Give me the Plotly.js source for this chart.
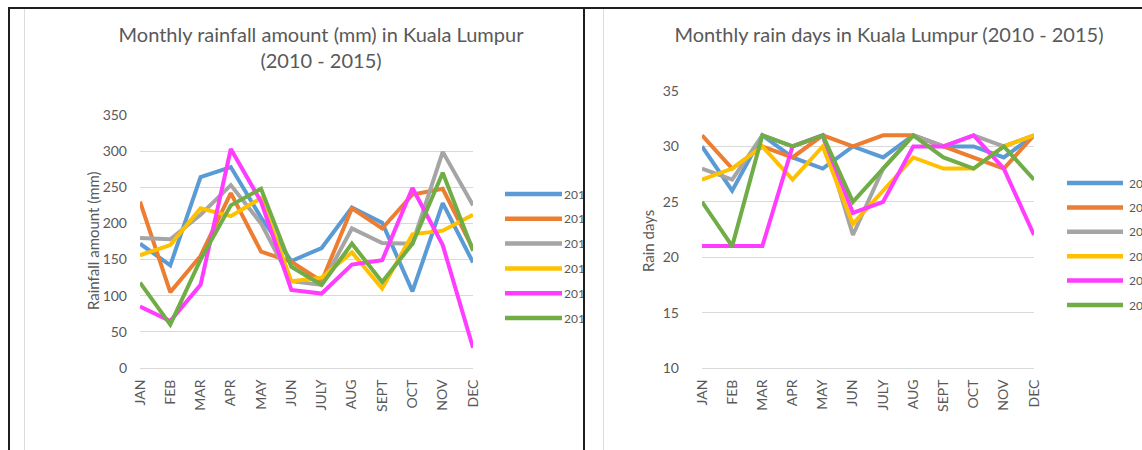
<!DOCTYPE html>
<html><head><meta charset="utf-8">
<script src="https://cdn.plot.ly/plotly-3.0.1.min.js"></script>
<style>
body{margin:0;background:#fff;}
#wrap{position:relative;width:1142px;height:450px;overflow:hidden;background:#fff;}
.pan{position:absolute;overflow:hidden;}
.bk{position:absolute;background:#1e1e1e;}
.gr{position:absolute;background:#dcdcdc;}
</style></head><body>
<div id="wrap">
 <div class="pan" id="c1" style="left:10px;top:9px;width:573px;height:441px"></div>
 <div class="pan" id="c2" style="left:585px;top:9px;width:557px;height:441px"></div>
 <div class="gr" style="left:24px;top:9px;width:1px;height:441px"></div>
 <div class="gr" style="left:603px;top:9px;width:1px;height:441px"></div>
 <div class="bk" style="left:8px;top:7px;width:1134px;height:2px"></div>
 <div class="bk" style="left:8px;top:7px;width:2px;height:443px"></div>
 <div class="bk" style="left:583px;top:7px;width:2px;height:443px"></div>
</div>
<script>
const months = ['JAN','FEB','MAR','APR','MAY','JUN','JULY','AUG','SEPT','OCT','NOV','DEC'];
const years = ['2010','2011','2012','2013','2014','2015'];
const colors = ['#5B9BD5','#ED7D31','#A5A5A5','#FFC000','#FF3CFF','#70AD47'];

// Monthly rainfall amount (mm)
const rain2010 = [172, 142, 264, 278, 208, 148, 166, 222, 201, 106, 228, 146];
const rain2011 = [230, 105, 155, 242, 161, 147, 120, 221, 193, 240, 248, 165];
const rain2012 = [180, 178, 212, 253, 200, 120, 115, 193, 173, 172, 299, 225];
const rain2013 = [156, 170, 221, 210, 235, 120, 125, 160, 110, 185, 190, 212];
const rain2014 = [85, 65, 115, 303, 230, 108, 103, 143, 149, 249, 170, 28];
const rain2015 = [118, 60, 150, 225, 248, 140, 115, 172, 119, 172, 270, 162];

// Monthly rain days
const days2010 = [30, 26, 31, 29, 28, 30, 29, 31, 30, 30, 29, 31];
const days2011 = [31, 28, 30, 29, 31, 30, 31, 31, 30, 29, 28, 31];
const days2012 = [28, 27, 31, 30, 31, 22, 28, 31, 30, 31, 30, 31];
const days2013 = [27, 28, 30, 27, 30, 23, 26, 29, 28, 28, 30, 31];
const days2014 = [21, 21, 21, 30, 31, 24, 25, 30, 30, 31, 28, 22];
const days2015 = [25, 21, 31, 30, 31, 25, 28, 31, 29, 28, 30, 27];

const rainSeries = [rain2010, rain2011, rain2012, rain2013, rain2014, rain2015];
const daySeries = [days2010, days2011, days2012, days2013, days2014, days2015];

const FONT = "Lato, 'Open Sans', sans-serif";
const GREY = '#595959';

function traces(series){
  return series.map((v,i)=>({
    type:'scatter', mode:'lines', x:months, y:v, name:years[i],
    line:{color:colors[i], width:4}, showlegend:false, hoverinfo:'skip'
  }));
}

// manual legend (long Excel-style keys)
function legend(x0, x1, xt, y0, dy, toPx){
  const shapes=[], ann=[];
  years.forEach((yr,i)=>{
    const p = toPx(x0, y0+i*dy), q = toPx(x1, y0+i*dy), t = toPx(xt, y0+i*dy);
    shapes.push({type:'line', xref:'paper', yref:'paper', x0:p[0], x1:q[0], y0:p[1], y1:p[1],
      line:{color:colors[i], width:4.5}});
    ann.push({xref:'paper', yref:'paper', x:t[0], y:t[1], text:yr, showarrow:false,
      xanchor:'left', yanchor:'middle', font:{size:12, color:GREY, family:FONT}});
  });
  return {shapes, ann};
}

function axes(yr, dt, standoff){
  return {
    xaxis:{type:'category', tickangle:-90, tickfont:{size:14, color:GREY}, showgrid:false,
      showline:true, linecolor:'#d9d9d9', ticks:'', ticklabelstandoff:5, fixedrange:true},
    yaxis:{range:yr, dtick:dt, tickfont:{size:14, color:GREY}, gridcolor:'#d9d9d9',
      zeroline:false, showline:false, ticks:'', ticklabelstandoff:standoff, fixedrange:true}
  };
}

// ----- chart 1 -----
(function(){
  const L=140, R=473, T=115, B=368; // page px of plot area
  const toPx=(x,y)=>[(x-L)/(R-L), (B-y)/(B-T)];
  const lg = legend(505, 562, 562, 194, 24.8, toPx);
  const ytp = toPx(93, 241);
  lg.ann.push({xref:'paper', yref:'paper', x:ytp[0], y:ytp[1], text:'Rainfall amount (mm)',
    xanchor:'center', yanchor:'middle',
    textangle:-90, showarrow:false, font:{size:15, color:GREY, family:FONT}});
  const ax = axes([0,350], 50, 12);
  const layout = Object.assign({
    width:640, height:441,
    margin:{l:L-10, r:640-(L-10)-(R-L), t:T-9, b:441-(T-9)-(B-T)},
    paper_bgcolor:'#fff', plot_bgcolor:'#fff',
    font:{family:FONT, color:GREY},
    title:{text:'Monthly rainfall amount (mm) in Kuala Lumpur<br>(2010 - 2015)',
      font:{size:20, color:GREY, family:FONT}, xref:'container', x:(321-10)/640, xanchor:'center',
      yref:'container', y:1-33/441, yanchor:'top'},
    shapes:lg.shapes, annotations:lg.ann, showlegend:false
  }, ax);
  Plotly.newPlot('c1', traces(rainSeries), layout, {staticPlot:true, displayModeBar:false});
})();

// ----- chart 2 -----
(function(){
  const L=702, R=1034, T=91, B=368;
  const toPx=(x,y)=>[(x-L)/(R-L), (B-y)/(B-T)];
  const lg = legend(1067, 1123, 1127, 183, 24.4, toPx);
  const ytp = toPx(648, 241);
  lg.ann.push({xref:'paper', yref:'paper', x:ytp[0], y:ytp[1], text:'Rain days',
    xanchor:'center', yanchor:'middle',
    textangle:-90, showarrow:false, font:{size:15, color:GREY, family:FONT}});
  const ax = axes([10,35], 5, 22);
  const layout = Object.assign({
    width:700, height:441,
    margin:{l:L-585, r:700-(L-585)-(R-L), t:T-9, b:441-(T-9)-(B-T)},
    paper_bgcolor:'#fff', plot_bgcolor:'#fff',
    font:{family:FONT, color:GREY},
    title:{text:'Monthly rain days in Kuala Lumpur (2010 - 2015)',
      font:{size:20, color:GREY, family:FONT}, xref:'container', x:(889-585)/700, xanchor:'center',
      yref:'container', y:1-19/441, yanchor:'top'},
    shapes:lg.shapes, annotations:lg.ann, showlegend:false
  }, ax);
  Plotly.newPlot('c2', traces(daySeries), layout, {staticPlot:true, displayModeBar:false});
})();
</script>
</body></html>
